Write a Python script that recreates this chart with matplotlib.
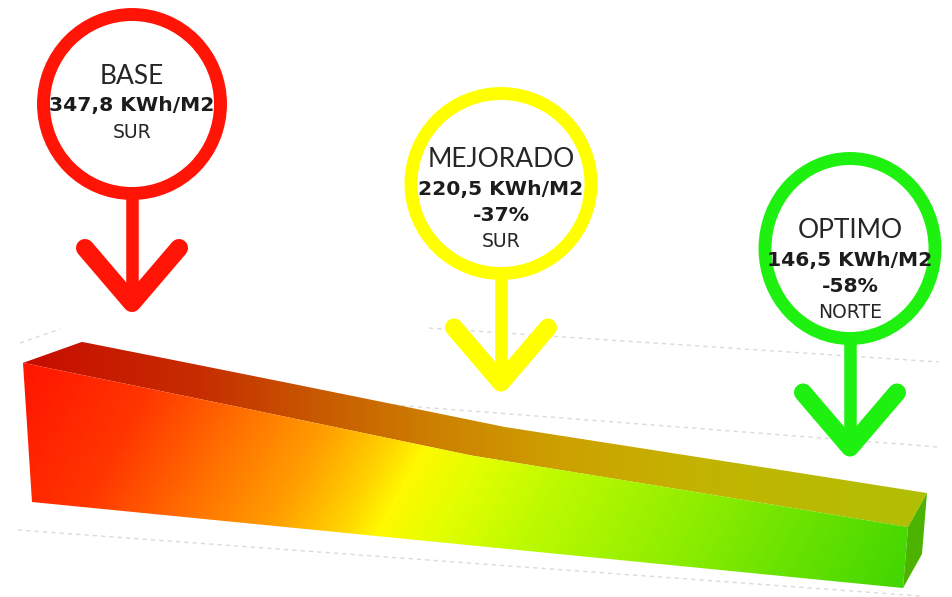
import numpy as np
import matplotlib.pyplot as plt
from matplotlib.path import Path
from matplotlib.patches import PathPatch, Ellipse
from matplotlib.colors import LinearSegmentedColormap

# ---------------- data ----------------
categories = ['BASE', 'MEJORADO', 'OPTIMO']
values = [347.8, 220.5, 146.5]
value_labels = ['347,8 KWh/M2', '220,5 KWh/M2', '146,5 KWh/M2']
change_labels = ['', '-37%', '-58%']
orientations = ['SUR', 'SUR', 'NORTE']

# ---------------- layout / style ----------------
ring_colors = ['#ff1405', '#ffff00', '#1ef010']
ring_centers = [(132, 104), (501, 183.5), (850, 248.5)]
ring_size = [(177, 179), (180, 180), (170, 180)]
title_offset = [-28, -24, -18]
W, H = 952, 597

fig = plt.figure(figsize=(W / 100, H / 100), dpi=100)
ax = fig.add_axes([0, 0, 1, 1])
ax.set_xlim(0, W)
ax.set_ylim(H, 0)
ax.axis('off')


def proj(c, v, d):
    """oblique/perspective-like projection of (category, value, depth)"""
    c = np.asarray(c, float)
    v = np.asarray(v, float)
    x = 32 + 435.5 * c + v * (-0.0259 + 0.030 * c) + d * (59 - 20 * c)
    y = 502 + 43 * c - v * (0.400 + 0.008 * c) + d * (-21 - 6.5 * c)
    return x, y


# faint gridlines (3D chart walls/floor)
grid_segments = [((429, 328), (939, 362)), ((393, 405), (939, 447)),
                 ((18, 530), (920, 596)), ((20, 343), (60, 329))]
for (x0, y0), (x1, y1) in grid_segments:
    ax.plot([x0, x1], [y0, y1], color='#dadada', lw=1.0, ls=(0, (3, 3)), zorder=1)

cat_pos = np.arange(len(values))
cs = np.linspace(0, cat_pos[-1], 400)
vs = np.interp(cs, cat_pos, values)
zeros = np.zeros_like(cs)

fx_top, fy_top = proj(cs, vs, 0)
fx_bot, fy_bot = proj(cs, zeros, 0)
bx_top, by_top = proj(cs, vs, 1)


def rgb(lst):
    return [(p / W, (r / 255, g / 255, b / 255)) for p, (r, g, b) in lst]


front_cmap = LinearSegmentedColormap.from_list('front', rgb([
    (0, (255, 15, 0)), (150, (255, 55, 0)), (250, (255, 115, 0)),
    (330, (255, 160, 0)), (390, (255, 210, 0)), (425, (255, 248, 0)),
    (480, (228, 255, 0)), (560, (190, 250, 0)), (700, (145, 238, 0)),
    (800, (110, 228, 0)), (W, (60, 212, 0))]))
top_cmap = LinearSegmentedColormap.from_list('top', rgb([
    (0, (200, 8, 0)), (200, (198, 45, 0)), (320, (200, 90, 0)),
    (440, (205, 130, 0)), (560, (205, 160, 0)), (700, (195, 180, 0)),
    (W, (175, 192, 5))]))

xx, yy = np.meshgrid(np.arange(W) + 0.5, np.arange(H) + 0.5)
ytop_col = np.interp(xx[0], fx_top, fy_top)
shift = 0.5 * np.clip(yy - ytop_col[None, :], 0, None)
front_img = front_cmap(np.clip((xx + shift) / W, 0, 1))
top_img = top_cmap(np.clip(xx / W, 0, 1))


def clipped_image(img, xs, ys, z):
    path = Path(np.column_stack([xs, ys]))
    patch = PathPatch(path, transform=ax.transData, facecolor='none', edgecolor='none')
    im = ax.imshow(img, extent=(0, W, H, 0), interpolation='bilinear', zorder=z)
    im.set_clip_path(patch)
    ax.set_xlim(0, W)
    ax.set_ylim(H, 0)


# top face
clipped_image(top_img,
              np.concatenate([fx_top, bx_top[::-1]]),
              np.concatenate([fy_top, by_top[::-1]]), 2)
# front face
clipped_image(front_img,
              np.concatenate([fx_top, fx_bot[::-1]]),
              np.concatenate([fy_top, fy_bot[::-1]]), 3)
# right side face
last = cat_pos[-1]
sx = [proj(last, values[-1], 0)[0], proj(last, values[-1], 1)[0], proj(last, 0, 1)[0], proj(last, 0, 0)[0]]
sy = [proj(last, values[-1], 0)[1], proj(last, values[-1], 1)[1], proj(last, 0, 1)[1], proj(last, 0, 0)[1]]
ax.fill(sx, sy, color='#4cb400', lw=0, zorder=2.5)

# ---------------- markers ----------------
tip_dy, arm_dy, arm_dx = 199, 55, 47
for i, cat in enumerate(categories):
    cx, cy = ring_centers[i]
    w, h = ring_size[i]
    col = ring_colors[i]
    ax.add_patch(Ellipse((cx, cy), w, h, facecolor='white', edgecolor=col, lw=9.3, zorder=5))
    ty = cy + tip_dy
    ax.plot([cx, cx], [cy + h / 2 + 4, ty - 4], color=col, lw=9, solid_capstyle='butt', zorder=5)
    ax.plot([cx - arm_dx, cx, cx + arm_dx], [ty - arm_dy, ty, ty - arm_dy], color=col, lw=13,
            solid_capstyle='round', solid_joinstyle='round', zorder=5)

    y0 = cy + title_offset[i]
    ax.text(cx, y0, cat, ha='center', va='center', fontsize=19, color='#262626',
            family=['Lato', 'DejaVu Sans'], zorder=6)
    ax.text(cx, y0 + 30, value_labels[i], ha='center', va='center', fontsize=14.6,
            fontweight='bold', color='#1c1c1c', family=['DejaVu Sans'], zorder=6)
    y = y0 + 30
    if change_labels[i]:
        y += 26
        ax.text(cx, y, change_labels[i], ha='center', va='center', fontsize=14.6,
                fontweight='bold', color='#1c1c1c', family=['DejaVu Sans'], zorder=6)
    y += 26
    ax.text(cx, y, orientations[i], ha='center', va='center', fontsize=13.5,
            color='#262626', family=['DejaVu Sans'], zorder=6)

fig.savefig('out.png', dpi=100)
